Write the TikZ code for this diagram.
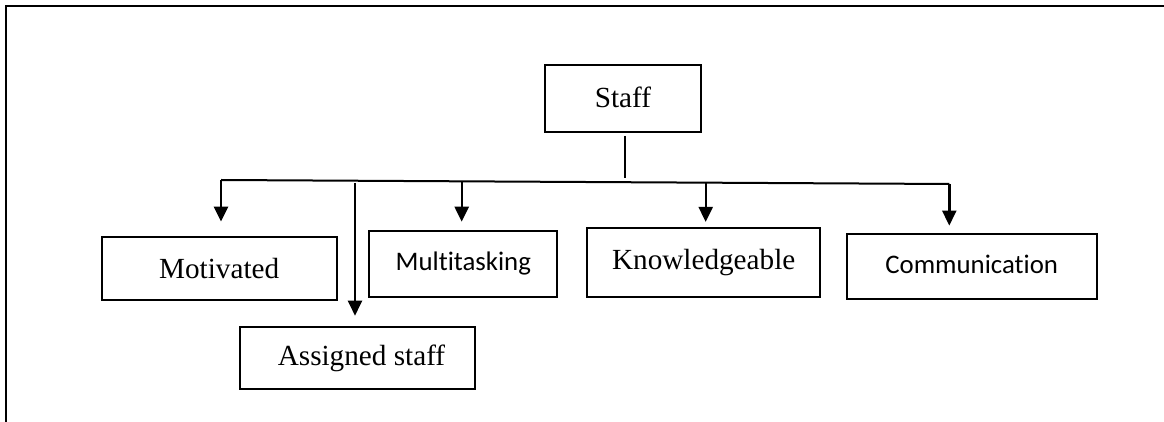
\documentclass[tikz,border=0pt]{standalone}
\usepackage{fontspec}
\setmainfont{Liberation Serif}
\newfontfamily\calibri[Ligatures=NoCommon]{Carlito}
\usetikzlibrary{arrows.meta}
\tikzset{
  box/.style={draw,line width=1pt,inner sep=0pt,font=\fontsize{14.6}{17}\selectfont},
  sbox/.style={box,font=\calibri\fontsize{13.4}{16}\selectfont},
  arr/.style={line width=1.2pt,-{Triangle[width=7pt,length=7.5pt]}},
}
\begin{document}
\begin{tikzpicture}[x=0.5pt,y=-0.5pt,line cap=butt,line join=miter]
		\useasboundingbox (0,0) rectangle (1164,422);
		\draw[line width=1.1pt] (1164,6)--(6,6)--(6,422);
		\node[box,minimum width=77.9pt,minimum height=33.3pt] (staff) at (622.9,98.3) {\raisebox{1.5pt}{Staff}};
		\node[box,minimum width=117.5pt,minimum height=31.7pt] (mot) at (219.2,268.3) {Motivated};
		\node[box,minimum width=117.5pt,minimum height=31.3pt] (asg) at (357.5,358) {\hspace{4pt}\raisebox{0.5pt}{Assigned staff}};
		\node[sbox,minimum width=94pt,minimum height=33.3pt] (multi) at (463.3,264) {\raisebox{1.5pt}{Multitasking}};
		\node[box,minimum width=116.3pt,minimum height=34.2pt] (know) at (703.7,262.5) {\raisebox{1.5pt}{Knowledgeable}};
		\node[sbox,minimum width=125pt,minimum height=32.7pt] (comm) at (971.7,266.7) {\raisebox{2.5pt}{Communication}};
		\coordinate (b1) at (221,180);
		\coordinate (b2) at (355,183);
		\coordinate (b3) at (461.7,181.3);
		\coordinate (st) at (625,182.2);
		\coordinate (b4) at (705.7,182.7);
		\coordinate (b5) at (949.3,184);
		\draw[line width=1pt] (b1)--(b5);
		\draw[line width=1pt,shorten <=1.7pt,shorten >=2pt] (staff.south -| st)--(st);
		\draw[arr,shorten >=7pt] (b1)--(b1 |- mot.north);
		\draw[arr,shorten >=5pt] (b2)--(b2 |- asg.north);
		\draw[arr,shorten >=4pt] (b3)--(b3 |- multi.north);
		\draw[arr,shorten >=2.7pt] (b4)--(b4 |- know.north);
		\draw[arr,shorten >=3.7pt] (b5)--(b5 |- comm.north);
		%		\node at (580,410) {Figure};
\end{tikzpicture}
\end{document}
